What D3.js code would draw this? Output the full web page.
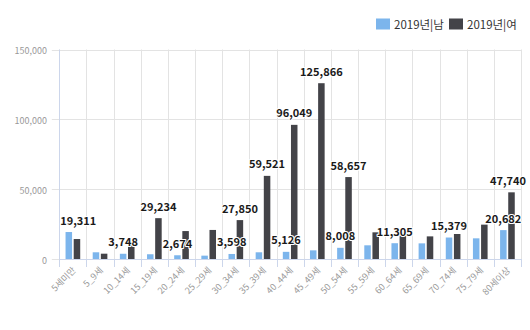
<!DOCTYPE html>
<html>
<head>
<meta charset="utf-8">
<script src="https://cdn.jsdelivr.net/npm/d3@7"></script>
<style>
  html, body { margin: 0; padding: 0; background: #fff; }
  svg { display: block; font-family: "Noto Sans CJK KR", "Noto Sans", sans-serif; }
</style>
</head>
<body>
<svg id="chart" width="530" height="330"></svg>
<script>
// Age groups
const categories = ["5세미만", "5_9세", "10_14세", "15_19세", "20_24세", "25_29세", "30_34세", "35_39세",
  "40_44세", "45_49세", "50_54세", "55_59세", "60_64세", "65_69세", "70_74세", "75_79세", "80세이상"];

// Series names
const seriesNames = ["2019년|남", "2019년|여"];

// Values per age group
const maleValues = [19311, 4800, 3748, 3400, 2674, 2400, 3598, 4800, 5126, 6200, 8008, 9800, 11305, 11200, 15379, 14800, 20682];
const femaleValues = [14300, 3800, 11200, 29234, 20000, 20800, 27850, 59521, 96049, 125866, 58657, 19100, 18800, 16200, 17900, 24600, 47740];

// Data labels that are displayed (null = hidden)
const maleLabels = [19311, null, 3748, null, 2674, null, 3598, null, 5126, null, 8008, null, 11305, null, 15379, null, 20682];
const femaleLabels = [null, null, null, 29234, null, null, 27850, 59521, 96049, 125866, 58657, null, null, null, null, null, 47740];

// Y-axis ticks
const yTicks = [0, 50000, 100000, 150000];

const colors = ["#7cb5ec", "#434348"];

const svg = d3.select("#chart");
const plot = { left: 59.3, right: 521, top: 49.5, bottom: 259 };

const x0 = d3.scaleBand().domain(categories).range([plot.left, plot.right]).padding(0);
const bw = x0.bandwidth();
const x1 = d3.scaleBand().domain([0, 1]).range([0.2 * bw, 0.8 * bw]).paddingInner(0.2).paddingOuter(0.1);
const y = d3.scaleLinear().domain([0, 150000]).range([plot.bottom, plot.top]);
const fmt = d3.format(",");

// Horizontal grid lines (extending left as ticks)
svg.append("g").selectAll("line").data(yTicks).join("line")
  .attr("x1", plot.left - 7.5).attr("x2", plot.right)
  .attr("y1", d => Math.round(y(d)) + 0.5).attr("y2", d => Math.round(y(d)) + 0.5)
  .attr("stroke", "#e3e3e3").attr("stroke-width", 1);

// Vertical grid lines at band boundaries
const bounds = categories.map(c => x0(c)).concat([plot.right]);
svg.append("g").selectAll("line").data(bounds).join("line")
  .attr("x1", d => Math.round(d) + 0.5).attr("x2", d => Math.round(d) + 0.5)
  .attr("y1", plot.top).attr("y2", plot.bottom)
  .attr("stroke", "#e3e3e3").attr("stroke-width", 1);

// Y-axis line
svg.append("line")
  .attr("x1", Math.round(plot.left) + 0.5).attr("x2", Math.round(plot.left) + 0.5)
  .attr("y1", plot.top).attr("y2", plot.bottom)
  .attr("stroke", "#ccd6eb");

// Y tick labels
svg.append("g").selectAll("text").data(yTicks).join("text")
  .attr("x", 47).attr("y", d => y(d) + 4.5)
  .attr("text-anchor", "end")
  .attr("font-size", 9).attr("fill", "#999")
  .text(d => fmt(d));

// Bars
const series = [maleValues, femaleValues];
series.forEach((vals, si) => {
  svg.append("g").selectAll("rect").data(vals).join("rect")
    .attr("x", (d, i) => x0(categories[i]) + x1(si))
    .attr("width", x1.bandwidth())
    .attr("y", d => y(d))
    .attr("height", d => plot.bottom - y(d))
    .attr("fill", colors[si]);
});

// X-axis line and ticks
svg.append("line")
  .attr("x1", plot.left).attr("x2", plot.right)
  .attr("y1", plot.bottom + 0.5).attr("y2", plot.bottom + 0.5)
  .attr("stroke", "#ccd6eb");
svg.append("g").selectAll("line").data(bounds).join("line")
  .attr("x1", d => Math.round(d) + 0.5).attr("x2", d => Math.round(d) + 0.5)
  .attr("y1", plot.bottom).attr("y2", plot.bottom + 8)
  .attr("stroke", "#ccd6eb");

// X tick labels, rotated
svg.append("g").selectAll("text").data(categories).join("text")
  .attr("transform", d => `translate(${x0(d) + bw / 2 + 3.5},${plot.bottom + 12}) rotate(-45)`)
  .attr("text-anchor", "end")
  .attr("font-size", 9).attr("fill", "#999")
  .text(d => d);

// Data labels
const labelSets = [maleLabels, femaleLabels];
const labelG = svg.append("g");
labelSets.forEach((labels, si) => {
  labels.forEach((v, i) => {
    if (v == null) return;
    const cx = x0(categories[i]) + x1(si) + x1.bandwidth() / 2;
    const t = labelG.append("text")
      .attr("y", y(series[si][i]) - 7.5)
      .attr("text-anchor", "middle")
      .attr("font-size", 11).attr("font-weight", "bold")
      .attr("fill", "#1a1a1a")
      .attr("stroke", "#fff").attr("stroke-width", 2).attr("stroke-linejoin", "round")
      .attr("paint-order", "stroke")
      .text(fmt(v));
    const w = t.node().getComputedTextLength();
    const px = Math.max(plot.left + 1 + w / 2, Math.min(plot.right + 5 - w / 2, cx));
    t.attr("x", px);
  });
});

// Legend
const legend = svg.append("g");
const legendPos = [{ sx: 376, tx: 394 }, { sx: 449, tx: 467 }];
seriesNames.forEach((name, i) => {
  legend.append("rect")
    .attr("x", legendPos[i].sx).attr("y", 18.5)
    .attr("width", 14).attr("height", 11)
    .attr("fill", colors[i]);
  legend.append("text")
    .attr("x", legendPos[i].tx).attr("y", 28.5)
    .attr("font-size", 11.5).attr("fill", "#333")
    .text(name);
});
</script>
</body>
</html>
